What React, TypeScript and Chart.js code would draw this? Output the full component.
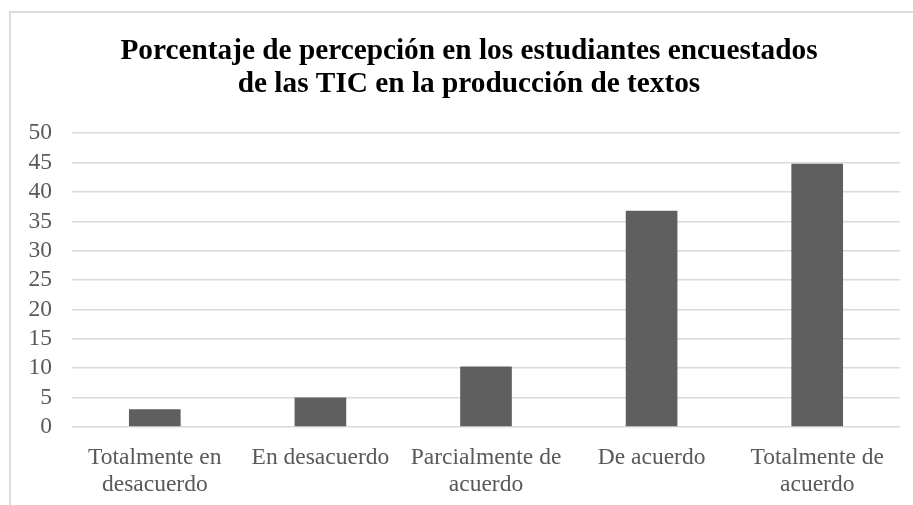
import React, { useEffect, useRef } from "react";
import { Chart, registerables } from "chart.js";

Chart.register(...registerables);

const categories: (string | string[])[] = [
  ["Totalmente en", "desacuerdo"],
  "En desacuerdo",
  ["Parcialmente de", "acuerdo"],
  "De acuerdo",
  ["Totalmente de", "acuerdo"],
];
const values: number[] = [3, 5, 10.3, 36.8, 44.8];
const titleLines: string[] = [
  "Porcentaje de percepción en los estudiantes encuestados",
  "de las TIC en la producción de textos",
];
const yMin = 0;
const yMax = 50;
const yStep = 5;

const FONT = "'Liberation Serif', 'Times New Roman', serif";

// widen the y-axis label clip area so labels can extend into the left padding
const widenYAxis = {
  id: "widenYAxis",
  afterLayout(chart: any) {
    const y = chart.scales.y;
    if (y) y.left = 0;
  },
};

export default function App() {
  const ref = useRef<HTMLCanvasElement | null>(null);

  useEffect(() => {
    if (!ref.current) return;
    const chart = new Chart(ref.current, {
      type: "bar",
      data: {
        labels: categories,
        datasets: [
          {
            data: values,
            backgroundColor: "#5f5f5f",
            borderWidth: 0,
            categoryPercentage: 1,
            barPercentage: 0.312,
          },
        ],
      },
      plugins: [widenYAxis],
      options: {
        animation: false,
        responsive: false,
        maintainAspectRatio: false,
        layout: { padding: { left: 38, right: 13, top: 0, bottom: 0 } },
        plugins: {
          legend: { display: false },
          tooltip: { enabled: false },
          title: {
            display: true,
            text: titleLines,
            color: "#000000",
            font: { family: FONT, size: 29.3, weight: "bold", lineHeight: 1.13 },
            padding: { top: 35, bottom: 32 },
          },
        },
        scales: {
          x: {
            grid: { display: false },
            border: { display: false },
            ticks: {
              color: "#595959",
              font: { family: FONT, size: 23.5, lineHeight: 1.17 },
              padding: 9,
              maxRotation: 0,
              autoSkip: false,
            },
            afterFit: (s: any) => {
              s.height = 78;
            },
          },
          y: {
            min: yMin,
            max: yMax,
            grid: { color: "#d9d9d9", lineWidth: 1.5, drawTicks: false },
            border: { display: false },
            ticks: {
              stepSize: yStep,
              autoSkip: false,
              color: "#595959",
              font: { family: FONT, size: 23.5 },
              padding: 20,
            },
            afterFit: (s: any) => {
              s.width = 34;
            },
          },
        },
      },
    });
    return () => chart.destroy();
  }, []);

  return (
    <div
      style={{
        position: "absolute",
        left: 0,
        top: 0,
        width: 913,
        height: 505,
        overflow: "hidden",
        background: "#ffffff",
      }}
    >
      <div
        style={{
          position: "absolute",
          left: 9,
          top: 11,
          width: 2000,
          height: 2000,
          border: "2px solid #dcdcdc",
        }}
      />
      <canvas
        ref={ref}
        width={913}
        height={505}
        style={{ position: "absolute", left: 0, top: 0, width: 913, height: 505 }}
      />
    </div>
  );
}
